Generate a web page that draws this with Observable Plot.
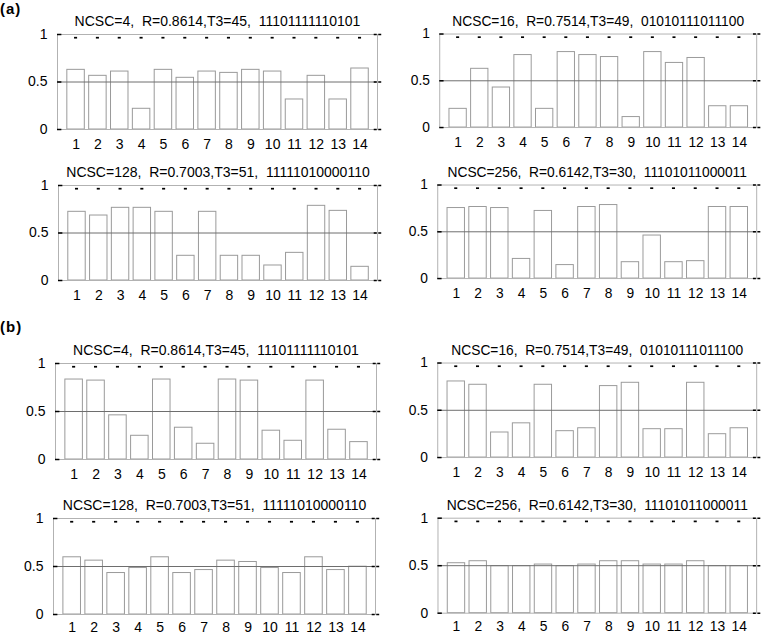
<!DOCTYPE html>
<html><head><meta charset="utf-8">
<script src="https://cdn.jsdelivr.net/npm/d3@7"></script>
<script src="https://cdn.jsdelivr.net/npm/@observablehq/plot@0.6"></script>
<style>
body{margin:0;background:#fff;font-family:"Liberation Sans",Arial,sans-serif;}
#root{position:relative;width:770px;height:634px;overflow:hidden;background:#fff;}
.panel{position:absolute;}
.lab{position:absolute;font-weight:bold;font-size:15px;letter-spacing:1px;color:#000;}
</style></head><body><div id="root"></div>
<script>
// categories (bar indices)
const bars = [1,2,3,4,5,6,7,8,9,10,11,12,13,14];
const yTicks = [0, 0.5, 1];
const groupLabels = ["(a)", "(b)"];
const titles = [
  "NCSC=4,\u00a0 R=0.8614,T3=45,\u00a0 11101111110101",
  "NCSC=16,\u00a0 R=0.7514,T3=49,\u00a0 01010111011100",
  "NCSC=128,\u00a0 R=0.7003,T3=51,\u00a0 11111010000110",
  "NCSC=256,\u00a0 R=0.6142,T3=30,\u00a0 11101011000011"
];
// group (a)
const a4   = [0.628,0.565,0.61,0.218,0.628,0.544,0.61,0.596,0.628,0.61,0.316,0.565,0.316,0.642];
const a16  = [0.2,0.628,0.428,0.775,0.2,0.807,0.775,0.754,0.112,0.807,0.691,0.744,0.228,0.228];
const a128 = [0.723,0.684,0.765,0.765,0.723,0.26,0.723,0.26,0.26,0.158,0.291,0.786,0.733,0.144];
const a256 = [0.754,0.765,0.754,0.21,0.723,0.144,0.765,0.786,0.175,0.46,0.175,0.186,0.765,0.765];
// group (b)
const b4   = [0.833,0.822,0.46,0.247,0.833,0.331,0.164,0.833,0.822,0.3,0.195,0.822,0.31,0.181];
const b16  = [0.805,0.77,0.265,0.362,0.77,0.279,0.31,0.756,0.791,0.3,0.3,0.791,0.247,0.31];
const b128 = [0.596,0.561,0.432,0.484,0.596,0.432,0.463,0.561,0.547,0.484,0.432,0.596,0.463,0.498];
const b256 = [0.526,0.547,0.495,0.495,0.512,0.495,0.512,0.547,0.547,0.512,0.512,0.547,0.495,0.495];

const xDomain = [0.15, 14.8];
const root = document.getElementById("root");

function panel(values, title, box, xPad) {
  const [L, R, T, B] = box;
  const ml = 50, mr = 14, mt = 30, mb = 26;
  const data = bars.map((b, i) => ({b, v: values[i]}));
  const chart = Plot.plot({
    width: R - L + ml + mr,
    height: B - T + mt + mb,
    marginLeft: ml, marginRight: mr, marginTop: mt, marginBottom: mb,
    style: {fontFamily: '"Liberation Sans", Arial, sans-serif', fontSize: "14px", color: "#000", background: "transparent", overflow: "visible"},
    x: {domain: xDomain, label: null},
    y: {domain: [0, 1], label: null},
    marks: [
      Plot.rect(data, {x1: d => d.b - 0.4, x2: d => d.b + 0.4, y1: 0, y2: "v", fill: "white", stroke: "#9a9a9a"}),
      Plot.ruleY([0.5], {stroke: "#6e6e6e"}),
      Plot.frame({stroke: "#b2b2b2"}),
      Plot.axisX({ticks: bars, tickSize: 0, tickPadding: xPad, tickFormat: d => String(d), label: null}),
      Plot.axisY({ticks: yTicks, tickSize: 0, tickPadding: 10, tickFormat: d => String(d), label: null}),
      Plot.ruleY(yTicks, {x1: xDomain[0], x2: xDomain[0] + 0.2, stroke: "#000", strokeWidth: 1.5}),
      Plot.ruleY(yTicks, {x1: xDomain[1] - 0.15, x2: xDomain[1] + 0.2, stroke: "#000", strokeWidth: 1.5, strokeDasharray: "3,1.5"}),
      Plot.rect(bars, {x1: d => d - 0.07, x2: d => d + 0.07, y1: 0.952, y2: 0.97, fill: "#000"}),
      Plot.text([title], {frameAnchor: "top", dy: -13, fontSize: 14, lineAnchor: "middle"})
    ]
  });
  const div = document.createElement("div");
  div.className = "panel";
  div.style.left = (L - ml) + "px";
  div.style.top = (T - mt) + "px";
  div.appendChild(chart);
  root.appendChild(div);
}

function label(text, x, y) {
  const d = document.createElement("div");
  d.className = "lab";
  d.textContent = text;
  d.style.left = x + "px";
  d.style.top = y + "px";
  root.appendChild(d);
}

label(groupLabels[0], 0, 0);
label(groupLabels[1], 0, 318);

panel(a4,   titles[0], [57, 377, 34, 129], 10);
panel(a16,  titles[1], [440, 762, 34, 129], 10);
panel(a128, titles[2], [58, 377, 185, 280], 10);
panel(a256, titles[3], [438, 762, 185, 280], 10);
panel(b4,   titles[0], [55, 376, 363, 459], 10);
panel(b16,  titles[1], [438, 762, 363, 459], 10);
panel(b128, titles[2], [53, 375, 518, 614], 8);
panel(b256, titles[3], [438, 760, 518, 614], 8);
</script>
</body></html>
